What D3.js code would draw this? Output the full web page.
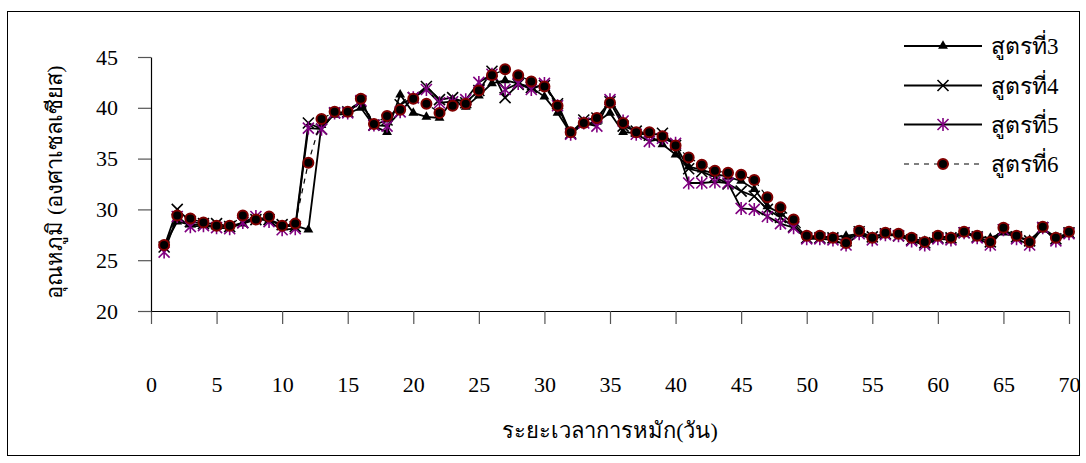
<!DOCTYPE html>
<html>
<head>
<meta charset="utf-8">
<script src="https://cdn.jsdelivr.net/npm/d3@7"></script>
<style>
  html, body { margin: 0; padding: 0; background: #fff; }
  svg { display: block; }
</style>
</head>
<body>
<svg id="chart" width="1086" height="463"></svg>
<script>
// days 1..70, temperature (°C) per formula
const days = d3.range(1, 71);

const s3 = [26.4, 28.8, 28.5, 28.5, 28.3, 28.3, 28.6, 29.0, 29.0, 28.3,
  28.4, 28.0, 38.3, 39.3, 39.4, 40.0, 38.2, 37.6, 41.3, 39.5,
  39.1, 39.0, 40.8, 40.1, 41.2, 42.4, 42.7, 42.4, 42.0, 41.1,
  39.5, 37.5, 38.4, 38.6, 39.5, 37.6, 37.5, 37.3, 36.4, 35.4,
  34.2, 33.9, 33.5, 33.2, 32.8, 32.0, 30.3, 29.6, 28.6, 27.3,
  27.3, 27.3, 27.4, 27.6, 27.3, 27.6, 27.5, 27.1, 26.9, 27.3,
  27.3, 27.8, 27.3, 27.2, 27.7, 27.3, 27.0, 28.0, 27.3, 27.6];

const s4 = [26.3, 30.0, 28.8, 28.6, 28.6, 28.3, 28.7, 29.0, 29.0, 28.5,
  28.3, 38.5, 37.9, 39.5, 39.6, 40.6, 38.3, 38.8, 40.3, 41.0,
  42.1, 40.8, 41.0, 40.5, 41.7, 43.6, 41.0, 42.3, 42.0, 42.2,
  40.4, 37.5, 38.8, 39.0, 40.6, 38.2, 37.7, 37.3, 37.5, 36.3,
  34.0, 33.7, 33.2, 32.5, 31.8, 31.3, 30.0, 29.2, 28.3, 27.2,
  27.2, 27.2, 26.9, 27.8, 27.3, 27.6, 27.4, 27.0, 26.7, 27.2,
  27.2, 27.7, 27.3, 26.8, 28.0, 27.3, 26.9, 28.2, 27.1, 27.7];

const s5 = [25.8, 29.3, 28.3, 28.4, 28.2, 28.1, 28.7, 29.3, 28.8, 28.0,
  28.1, 38.0, 37.9, 39.5, 39.5, 40.7, 38.3, 38.2, 39.6, 41.0,
  41.8, 40.5, 40.6, 40.8, 42.5, 43.3, 41.8, 42.4, 41.8, 42.4,
  40.2, 37.4, 38.5, 38.2, 40.8, 38.7, 37.4, 36.7, 37.0, 36.5,
  32.6, 32.6, 32.7, 32.6, 30.1, 30.0, 29.3, 28.6, 28.2, 27.1,
  27.1, 27.0, 26.5, 27.6, 27.0, 27.5, 27.4, 26.9, 26.5, 27.1,
  27.0, 27.7, 27.2, 26.5, 28.0, 27.1, 26.5, 28.2, 26.9, 27.6];

const s6 = [26.5, 29.4, 29.1, 28.7, 28.4, 28.4, 29.4, 29.0, 29.3, 28.4,
  28.6, 34.6, 38.9, 39.6, 39.6, 40.9, 38.4, 39.2, 39.8, 40.9,
  40.4, 39.5, 40.2, 40.4, 41.7, 43.2, 43.8, 43.2, 42.6, 42.1,
  40.2, 37.6, 38.5, 39.0, 40.5, 38.5, 37.6, 37.6, 37.2, 36.3,
  35.1, 34.4, 33.8, 33.6, 33.4, 32.9, 31.2, 30.2, 29.0, 27.4,
  27.4, 27.2, 26.7, 27.9, 27.2, 27.7, 27.6, 27.2, 26.8, 27.4,
  27.2, 27.8, 27.4, 26.8, 28.2, 27.4, 26.8, 28.3, 27.2, 27.8];

const seriesNames = ['สูตรที่3', 'สูตรที่4', 'สูตรที่5', 'สูตรที่6'];
const xTicks = d3.range(0, 71, 5);
const yTicks = [20, 25, 30, 35, 40, 45];

const FONT = "'Liberation Serif', 'DejaVu Serif', 'Times New Roman', serif";

const series = [
  { name: seriesNames[0], values: s3, marker: 'tri', dash: null },
  { name: seriesNames[1], values: s4, marker: 'x', dash: null },
  { name: seriesNames[2], values: s5, marker: 'star', dash: null },
  { name: seriesNames[3], values: s6, marker: 'dot', dash: '5,5' }
];

const svg = d3.select('#chart').style('font-family', FONT);

// outer frame
svg.append('rect')
  .attr('x', 7.5).attr('y', 11.5).attr('width', 1072).attr('height', 444)
  .attr('fill', 'none').attr('stroke', '#000').attr('stroke-width', 1);

const x = d3.scaleLinear().domain([0, 70]).range([151, 1069]);
const y = d3.scaleLinear().domain([20, 45]).range([311, 57]);

// axes
const xAxis = svg.append('g').attr('transform', 'translate(0,311)')
  .call(d3.axisBottom(x).tickValues(xTicks).tickSize(13).tickPadding(52).tickSizeOuter(0));
const yAxis = svg.append('g').attr('transform', 'translate(151,0)')
  .call(d3.axisLeft(y).tickValues(yTicks).tickSize(13).tickPadding(20).tickSizeOuter(0));

[xAxis, yAxis].forEach((ax) => {
  ax.attr('font-family', null).style('font-family', FONT);
  ax.select('.domain').attr('stroke', '#000').attr('stroke-width', 1.2);
  ax.selectAll('.tick line').attr('stroke', '#555').attr('stroke-width', 1.2);
  ax.selectAll('.tick text').style('font-family', FONT).style('font-size', '22px').attr('fill', '#000');
});

// axis titles
svg.append('text')
  .attr('x', 610).attr('y', 438)
  .attr('text-anchor', 'middle')
  .style('font-family', FONT).style('font-size', '22px')
  .text('ระยะเวลาการหมัก(วัน)');

svg.append('text')
  .attr('transform', 'translate(62,182) rotate(-90)')
  .attr('text-anchor', 'middle')
  .style('font-family', FONT).style('font-size', '22px')
  .text('อุณหภูมิ (องศาเซลเซียส)');

// markers
function drawMarker(g, type, cx, cy) {
  if (type === 'tri') {
    g.append('path')
      .attr('d', d3.symbol().type(d3.symbolTriangle).size(42)())
      .attr('transform', `translate(${cx},${cy})`)
      .attr('fill', '#000');
  } else if (type === 'x') {
    const r = 5.5;
    g.append('path')
      .attr('d', `M${cx - r},${cy - r}L${cx + r},${cy + r}M${cx - r},${cy + r}L${cx + r},${cy - r}`)
      .attr('stroke', '#000').attr('stroke-width', 1.6).attr('fill', 'none');
  } else if (type === 'star') {
    const r = 5.5;
    g.append('path')
      .attr('d', `M${cx - r},${cy - r}L${cx + r},${cy + r}M${cx - r},${cy + r}L${cx + r},${cy - r}M${cx},${cy - r - 1}L${cx},${cy + r + 1}`)
      .attr('stroke', '#800080').attr('stroke-width', 1.6).attr('fill', 'none');
  } else {
    g.append('circle')
      .attr('cx', cx).attr('cy', cy).attr('r', 5)
      .attr('fill', '#000').attr('stroke', '#800000').attr('stroke-width', 2);
  }
}

const line = d3.line().x((d) => x(d[0])).y((d) => y(d[1]));

series.forEach((s) => {
  const pts = days.map((d, i) => [d, s.values[i]]);
  const g = svg.append('g');
  g.append('path')
    .datum(pts)
    .attr('d', line)
    .attr('fill', 'none')
    .attr('stroke', '#000')
    .attr('stroke-width', s.dash ? 1.2 : 1.8)
    .attr('stroke-dasharray', s.dash);
  pts.forEach((p) => drawMarker(g, s.marker, x(p[0]), y(p[1])));
});

// legend
const legendY = [46, 85.5, 124.5, 164];
series.forEach((s, i) => {
  const g = svg.append('g');
  g.append('line')
    .attr('x1', 904).attr('x2', 982)
    .attr('y1', legendY[i]).attr('y2', legendY[i])
    .attr('stroke', '#000')
    .attr('stroke-width', s.dash ? 1.2 : 1.8)
    .attr('stroke-dasharray', s.dash);
  drawMarker(g, s.marker, 943, legendY[i]);
  g.append('text')
    .attr('x', 991).attr('y', legendY[i] + 8)
    .style('font-family', FONT).style('font-size', '23px')
    .text(s.name);
});
</script>
</body>
</html>
